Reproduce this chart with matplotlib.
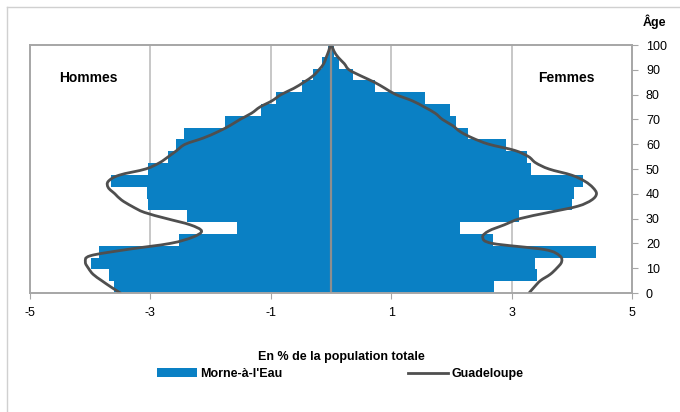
import matplotlib
matplotlib.use('Agg')
import matplotlib.pyplot as plt
from matplotlib.patches import Patch, PathPatch
from matplotlib.path import Path
from matplotlib.lines import Line2D

plt.rcParams['font.family'] = ['Liberation Sans', 'DejaVu Sans']

# ---- data ----
age_groups = ['0-4', '5-9', '10-14', '15-19', '20-24', '25-29', '30-34', '35-39',
              '40-44', '45-49', '50-54', '55-59', '60-64', '65-69', '70-74', '75-79',
              '80-84', '85-89', '90-94', '95-99', '100+']
hommes_mae = [-3.60, -3.68, -3.98, -3.85, -2.52, -1.56, -2.40, -3.04, -3.06, -3.66,
              -3.04, -2.71, -2.57, -2.44, -1.76, -1.17, -0.91, -0.49, -0.30, -0.15, -0.05]
femmes_mae = [2.71, 3.42, 3.39, 4.40, 2.69, 2.14, 3.12, 4.00, 4.04, 4.19,
              3.33, 3.25, 2.90, 2.28, 2.08, 1.98, 1.56, 0.73, 0.37, 0.13, 0.05]

line_ages = [0, 2.5, 5, 7.5, 10, 12.5, 15, 17.5, 20, 22.5, 25, 27.5, 30, 32.5, 35, 37.5,
             40, 42.5, 45, 47.5, 50, 52.5, 55, 57.5, 60, 62.5, 65, 67.5, 70, 72.5, 75,
             77.5, 80, 82.5, 85, 87.5, 90, 92.5, 95, 97.5, 100]
hommes_guad = [-3.50, -3.66, -3.81, -3.95, -4.03, -4.08, -4.00, -3.40, -2.67, -2.30,
               -2.15, -2.34, -2.73, -3.10, -3.31, -3.48, -3.59, -3.70, -3.70, -3.52,
               -3.08, -2.85, -2.70, -2.56, -2.42, -2.12, -1.88, -1.68, -1.51, -1.32,
               -1.18, -0.98, -0.83, -0.62, -0.45, -0.30, -0.20, -0.12, -0.08, -0.04, -0.01]
femmes_guad = [3.29, 3.38, 3.48, 3.64, 3.75, 3.83, 3.80, 3.55, 2.68, 2.52,
               2.62, 2.88, 3.14, 3.62, 4.10, 4.33, 4.41, 4.35, 4.22, 4.00,
               3.62, 3.40, 3.28, 3.05, 2.62, 2.35, 2.15, 2.02, 1.85, 1.73,
               1.55, 1.35, 1.08, 0.90, 0.72, 0.50, 0.30, 0.22, 0.12, 0.05, 0.01]

x_ticks = [-5, -3, -1, 1, 3, 5]
y_ticks = [0, 10, 20, 30, 40, 50, 60, 70, 80, 90, 100]

blue = '#0A80C4'
line_col = '#4F4F4F'
grid_col = '#BDBDBD'
spine_col = '#A6A6A6'


def smooth_path(xs, ys):
    """Excel-like smoothed line: Bezier curves passing through every data point."""
    pts = list(zip(xs, ys))
    verts = [pts[0]]
    codes = [Path.MOVETO]
    n = len(pts)
    for i in range(n - 1):
        p0 = pts[i - 1] if i > 0 else pts[i]
        p1 = pts[i]
        p2 = pts[i + 1]
        p3 = pts[i + 2] if i + 2 < n else pts[i + 1]
        c1 = (p1[0] + (p2[0] - p0[0]) / 6.0, p1[1] + (p2[1] - p0[1]) / 6.0)
        c2 = (p2[0] - (p3[0] - p1[0]) / 6.0, p2[1] - (p3[1] - p1[1]) / 6.0)
        verts += [c1, c2, p2]
        codes += [Path.CURVE4, Path.CURVE4, Path.CURVE4]
    return Path(verts, codes)


fig = plt.figure(figsize=(6.8, 4.12), dpi=100)
W, H = 680, 412
ax = fig.add_axes([30 / W, 1 - 293 / H, 602 / W, 248 / H])

idx = list(range(len(age_groups)))
ax.barh(idx, hommes_mae, height=1.0, color=blue, zorder=2)
ax.barh(idx, femmes_mae, height=1.0, color=blue, zorder=2)
ax.set_ylim(-0.5, len(age_groups) - 0.5)
ax.set_xlim(-5, 5)
ax.set_xticks(x_ticks)
ax.set_xticklabels([str(t) for t in x_ticks], fontsize=9)
ax.set_yticks([])
ax.tick_params(axis='x', direction='out', length=4, color=spine_col, pad=6)
for t in [-3, -1, 1, 3]:
    ax.axvline(t, color=grid_col, lw=1.2, zorder=1)
ax.axvline(0, color='#8E8E8E', lw=1.6, zorder=3)
for s in ax.spines.values():
    s.set_color(spine_col)
    s.set_linewidth(1.2)

ax2 = ax.twinx()
for series in (hommes_guad, femmes_guad):
    ax2.add_patch(PathPatch(smooth_path(series, line_ages), facecolor='none',
                            edgecolor=line_col, lw=2, capstyle='round', joinstyle='round'))
ax2.set_ylim(0, 100)
ax2.set_yticks(y_ticks)
ax2.set_yticklabels([str(t) for t in y_ticks], fontsize=9)
ax2.tick_params(axis='y', direction='out', length=4, color=spine_col, pad=6)
for s in ax2.spines.values():
    s.set_color(spine_col)
    s.set_linewidth(1.2)
ax2.set_xlim(-5, 5)

fig.text(88 / W, 1 - 78 / H, 'Hommes', fontsize=10, fontweight='bold', ha='center', va='center')
fig.text(566 / W, 1 - 78 / H, 'Femmes', fontsize=10, fontweight='bold', ha='center', va='center')
fig.text(654 / W, 1 - 22 / H, 'Âge', fontsize=9, fontweight='bold', ha='center', va='center')
fig.text(341 / W, 1 - 357 / H, 'En % de la population totale', fontsize=9,
         fontweight='bold', ha='center', va='center')

handles = [Patch(facecolor=blue, edgecolor='none'), Line2D([], [], color=line_col, lw=2)]
fig.legend(handles, ["Morne-à-l'Eau", 'Guadeloupe'], loc='center',
           bbox_to_anchor=(340 / W, 1 - 374 / H), ncol=2, frameon=False,
           columnspacing=10, handlelength=3.2, handletextpad=0.3,
           prop={'weight': 'bold', 'size': 9})

# outer chart frame
fig.add_artist(Line2D([7 / W, 1.0], [1 - 7 / H, 1 - 7 / H], transform=fig.transFigure,
                      color='#D0D0D0', lw=1))
fig.add_artist(Line2D([7 / W, 7 / W], [0, 1 - 7 / H], transform=fig.transFigure,
                      color='#D0D0D0', lw=1))

fig.savefig('out.png', dpi=100)
